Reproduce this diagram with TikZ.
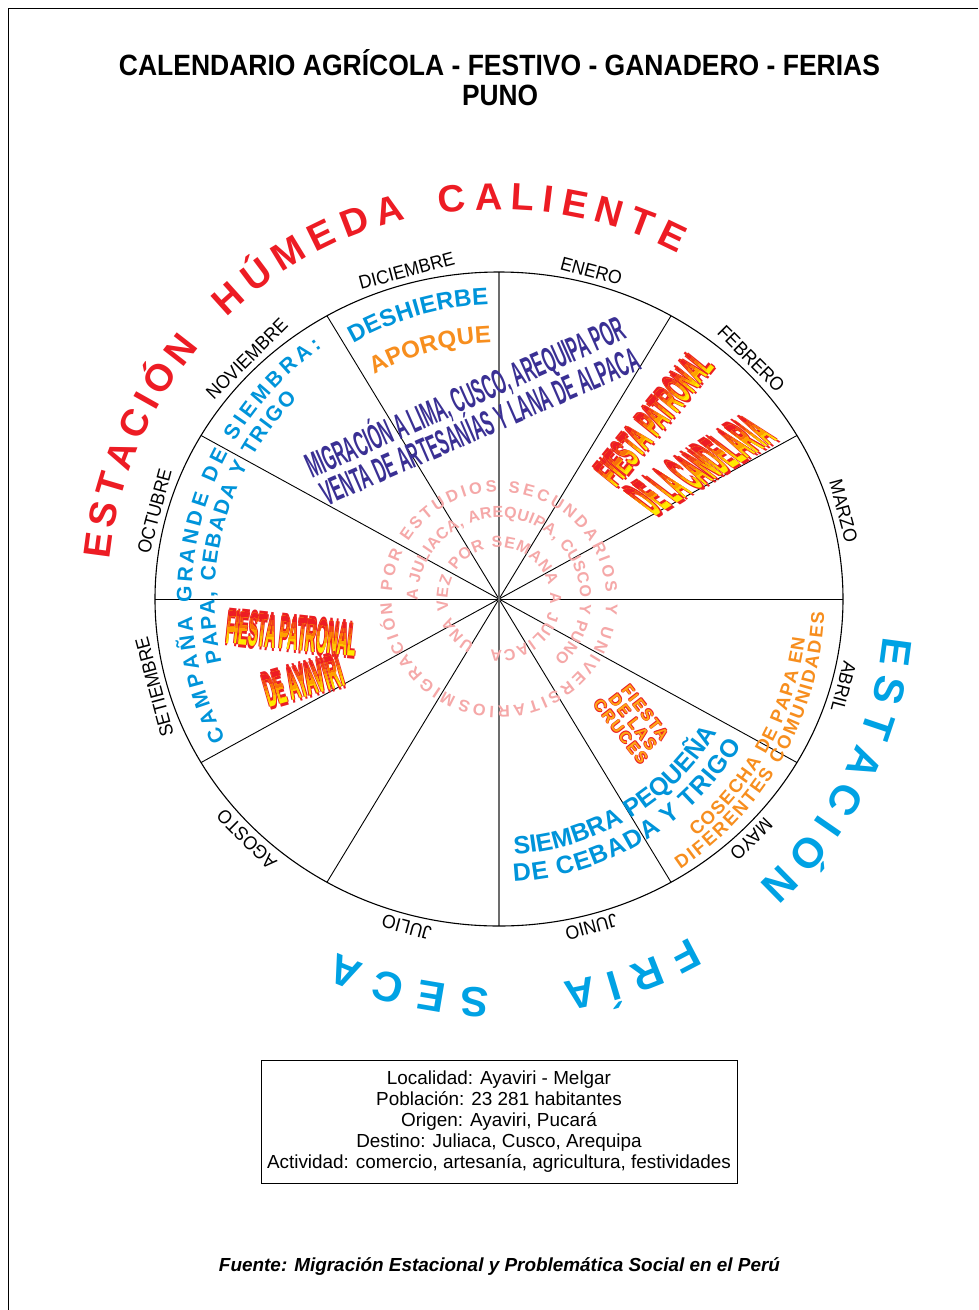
\documentclass[tikz,border=0pt]{standalone}
\usepackage{fontspec}
\setmainfont{Liberation Sans}
\usepackage{graphicx}
\definecolor{redS}{RGB}{237,28,36}
\definecolor{cyanS}{RGB}{0,162,228}
\definecolor{blueA}{RGB}{0,148,218}
\definecolor{orangeA}{RGB}{247,142,30}
\definecolor{pinkA}{RGB}{245,168,168}
\definecolor{purpA}{RGB}{58,48,148}
\definecolor{fred}{RGB}{235,30,35}
\definecolor{fyel}{RGB}{255,165,20}
\definecolor{gy0}{RGB}{255,235,0}
\definecolor{gy1}{RGB}{255,200,0}
\definecolor{gy2}{RGB}{255,160,0}
\definecolor{gy3}{RGB}{250,110,10}
\definecolor{gy4}{RGB}{242,62,25}
\definecolor{gy5}{RGB}{237,28,36}
\newcommand\fitbox[3]{\resizebox{#1}{#2}{\raisebox{0pt}[0.716em][0pt]{#3}}}
\newcommand\outl[1]{\rlap{\color{fred}\kern-.05em#1}\rlap{\color{fred}\kern.05em#1}\rlap{\color{fred}\raisebox{.05em}{#1}}\rlap{\color{fred}\raisebox{-.05em}{#1}}{\color{fyel}#1}}
\newcommand\redoutl[1]{\rlap{\color{fred}\kern-.06em#1}\rlap{\color{fred}\kern.06em#1}\rlap{\color{fred}\raisebox{.06em}{#1}}\rlap{\color{fred}\raisebox{-.06em}{#1}}\phantom{#1}}
\newlength\chw
\newcommand\measurech[2]{\pgfinterruptpicture\settowidth{\chw}{#1#2}\global\chw=\chw\endpgfinterruptpicture}
% #1 prefix, #2 radius, #3 first-letter angle, #4 last-letter angle, #5 rotation offset, #6 style, #7 font, #8 letters
\newcommand\arcfit[8]{%
  \gdef\accw{0}\gdef\nch{0}%
  \foreach \cc [count=\ci] in {#8}{%
    \measurech{#7}{\cc}%
    \pgfmathsetmacro\tmp{\accw+\chw}\global\let\accw\tmp
    \ifnum\ci=1 \xdef\wfirst{\the\chw}\fi
    \xdef\wlast{\the\chw}\xdef\nch{\ci}%
  }%
  \pgfmathsetmacro\dirn{ifthenelse(#4>#3,1,-1)}%
  \pgfmathsetmacro\trk{(abs(#4-(#3))/57.29578*(#2)-(\accw-0.5*\wfirst-0.5*\wlast))/(\nch-1)}%
  \gdef\accw{0}%
  \foreach \cc [count=\ci from 0] in {#8}{%
    \measurech{#7}{\cc}%
    \pgfmathsetmacro\ang{#3+\dirn*(\accw+0.5*\chw-0.5*\wfirst)/(#2)*57.29578}%
    \node[#6, font=#7, rotate=\ang+(#5)] (#1\ci) at (\ang:#2) {\cc};
    \pgfmathsetmacro\tmp{\accw+\chw+\trk}\global\let\accw\tmp
  }}
% #1 name, #2 position, #3 rotation, #4 width, #5 height, #6 slant, #7 text
\newcommand\gradtext[7]{%
  \begin{scope}[shift={#2}, rotate=#3, xslant=#6]
    \node[transform shape, inner sep=0pt] (#1) at (0,0) {\fitbox{#4pt}{#5pt}{\bfseries\redoutl{#7}}};
    \foreach \k/\col in {0/gy0,1/gy1,2/gy2,3/gy3,4/gy4,5/gy5}{%
      \pgfmathsetmacro\yk{ifthenelse(\k==0,-#5/2-10,-#5/2+\k*#5/6)}%
      \begin{scope}
        \clip (-#4/2-30,\yk) rectangle (#4/2+30,#5/2+10);
        \node[transform shape, inner sep=0pt] (#1f\k) at (0,0) {\fitbox{#4pt}{#5pt}{\bfseries\color{\col}#7}};
      \end{scope}}
  \end{scope}}
\tikzset{
  lt/.style={inner sep=0pt, text depth=0pt, anchor=center},
  seasonR/.style={lt, text=redS, text height=27.2pt},
  seasonB/.style={lt, text=cyanS, text height=30pt},
  pinkT/.style={lt, text=pinkA, text height=11.5pt},
  blueL/.style={lt, text=blueA, text height=15pt},
  blueM/.style={lt, text=blueA, text height=17.2pt},
  orangeM/.style={lt, text=orangeA, text height=17.2pt},
  blueB/.style={lt, text=blueA, text height=17.9pt},
  orangeS/.style={lt, text=orangeA, text height=13.2pt},
  month/.style={lt, font=\fontsize{19}{20}\selectfont, text height=13.6pt},
  sector/.style={black, line width=0.9pt},
  axisv/.style={gray!85!black, line width=1.6pt},
  fiesta/.style={inner sep=0pt, font=\bfseries},
  migr/.style={inner sep=0pt, text=purpA, font=\bfseries},
}
\begin{document}
\begin{tikzpicture}[x=1pt,y=1pt]
\useasboundingbox (0,0) rectangle (978,-1310);
\fill[white] (0,0) rectangle (978,-1310);
% frame
\coordinate (f1) at (8,-1310);
\coordinate (f2) at (8,-8);
\coordinate (f3) at (978,-8);
\draw[line width=0.8pt] (f1) -- (f2) -- (f3);
% title
\node[inner sep=0pt] (t1) at (499.5,-65) {\fitbox{761pt}{21pt}{\bfseries CALENDARIO AGRÍCOLA - FESTIVO - GANADERO - FERIAS}};
\node[inner sep=0pt] (t2) at (500,-95) {\fitbox{76pt}{21pt}{\bfseries PUNO}};

\begin{scope}[shift={(499,-599)}]
  \coordinate (O) at (0,0);
  \foreach \a in {0,30,...,330} { \coordinate (p\a) at (\a:344 and 327); }
  \foreach \a in {0,30,60,120,150,180,210,240,300,330} { \draw[sector] (O) -- (p\a); }
  \draw[axisv] (O) -- (p90);
  \draw[axisv] (O) -- (p270);
  \draw[black, line width=1.1pt] (O) ellipse [x radius=344, y radius=327];
  % months
  \foreach \a/\m in {105/DICIEMBRE, 75/ENERO, 45/FEBRERO, 15/MARZO, -15/ABRIL, -45/MAYO, -75/JUNIO, -105/JULIO, -135/AGOSTO, -165/SETIEMBRE, 165/OCTUBRE, 135/NOVIEMBRE}{
    \node[month, rotate=\a-90] (m\m) at (\a:357 and 340) {\scalebox{0.93}[1]{\m}};
  }
  % seasons
  \arcfit{hsa}{405}{172.4}{142}{-90}{seasonR}{\fontsize{38}{40}\selectfont\bfseries}{E,S,T,A,C,I,Ó,N}
  \arcfit{hsb}{405}{132}{105.8}{-90}{seasonR}{\fontsize{38}{40}\selectfont\bfseries}{H,Ú,M,E,D,A}
  \arcfit{hsc}{403}{96.7}{64.4}{-90}{seasonR}{\fontsize{38}{40}\selectfont\bfseries}{C,A,L,I,E,N,T,E}
  \arcfit{es}{401}{-7.6}{-45.5}{-90}{seasonB}{\fontsize{42}{44}\selectfont\bfseries}{E,S,T,A,C,I,Ó,N}
  \arcfit{fr}{404}{-62.4}{-78.4}{-90}{seasonB}{\fontsize{42}{44}\selectfont\bfseries}{F,R,Í,A}
  \arcfit{se}{404}{-93.4}{-112.5}{-90}{seasonB}{\fontsize{42}{44}\selectfont\bfseries}{S,E,C,A}
  % pink rings
  \arcfit{po}{113}{243}{-108}{-90}{pinkT}{\fontsize{16.5}{18}\selectfont\bfseries}{M,I,G,R,A,C,I,Ó,N,~,P,O,R,~,E,S,T,U,D,I,O,S,~,S,E,C,U,N,D,A,R,I,O,S,~,Y,~,U,N,I,V,E,R,S,I,T,A,R,I,O,S}
  \arcfit{pm}{87}{177}{-43}{-90}{pinkT}{\fontsize{16}{18}\selectfont\bfseries}{A,~,J,U,L,I,A,C,A,{,},~,A,R,E,Q,U,I,P,A,{,},~,C,U,S,C,O,~,Y,~,P,U,N,O}
  \arcfit{pi}{57}{235}{-93}{-90}{pinkT}{\fontsize{16}{18}\selectfont\bfseries}{U,N,A,~,V,E,Z,~,P,O,R,~,S,E,M,A,N,A,~,A,~,J,U,L,I,A,C,A}
  % activities along arcs
  \arcfit{cg}{315}{205.8}{125.8}{-90}{blueL}{\fontsize{21}{23}\selectfont\bfseries}{C,A,M,P,A,Ñ,A,~,G,R,A,N,D,E,~,D,E,~,S,I,E,M,B,R,A,:}
  \arcfit{pc}{292}{191.4}{136.8}{-90}{blueL}{\fontsize{21}{23}\selectfont\bfseries}{P,A,P,A,{,},~,C,E,B,A,D,A,~,Y,~,T,R,I,G,O}
  \arcfit{de}{303}{118}{93.6}{-90}{blueM}{\fontsize{24}{26}\selectfont\bfseries}{D,E,S,H,I,E,R,B,E}
  \arcfit{ap}{265}{117.2}{93.5}{-90}{orangeM}{\fontsize{24}{26}\selectfont\bfseries}{A,P,O,R,Q,U,E}
  \arcfit{sp}{247}{-84.7}{-33.4}{90}{blueB}{\fontsize{25}{27}\selectfont\bfseries}{S,I,E,M,B,R,A,~,P,E,Q,U,E,Ñ,A}
  \arcfit{dc}{274}{-85.2}{-33}{90}{blueB}{\fontsize{25}{27}\selectfont\bfseries}{D,E,~,C,E,B,A,D,A,~,Y,~,T,R,I,G,O}
  \arcfit{co}{302}{-49.1}{-8.5}{90}{orangeS}{\fontsize{18.5}{20}\selectfont\bfseries}{C,O,S,E,C,H,A,~,D,E,~,P,A,P,A,~,E,N}
  \arcfit{di}{319}{-55}{-3.4}{90}{orangeS}{\fontsize{18.5}{20}\selectfont\bfseries}{D,I,F,E,R,E,N,T,E,S,~,C,O,M,U,N,I,D,A,D,E,S}
\end{scope}

% straight / warped texts
\node[migr, rotate=24] (mg1) at (465,-397) {\fitbox{346pt}{25pt}{\bfseries MIGRACIÓN A LIMA, CUSCO, AREQUIPA POR}};
\node[migr, rotate=23.5] (mg2) at (480,-426) {\fitbox{344pt}{25pt}{\bfseries VENTA DE ARTESANÍAS Y LANA DE ALPACA}};
\gradtext{fc1}{(654,-418)}{51}{156}{31}{0}{FIESTA PATRONAL}
\gradtext{fc2}{(700,-465)}{32}{144}{40}{-0.38}{DE LA CANDELARIA}
\gradtext{fa1}{(292,-633)}{-6}{131}{34}{0}{FIESTA PATRONAL}
\gradtext{fa2}{(303,-680)}{16}{80}{34}{0}{DE AYAVIRI}
\node[fiesta, rotate=-52, align=center, font=\fontsize{16}{15.5}\selectfont\bfseries] (fx) at (633,-722) {\addfontfeature{LetterSpace=12}\outl{FIESTA}\\\addfontfeature{LetterSpace=12}\outl{DE LAS}\\\addfontfeature{LetterSpace=12}\outl{CRUCES}};

% info box
\node[draw, line width=0.9pt, minimum width=476pt, minimum height=123pt, align=center, font=\fontsize{18.9}{21}\selectfont] (info) at (499,-1121.5) {Localidad: Ayaviri - Melgar\\Población: 23 281 habitantes\\Origen: Ayaviri, Pucará\\Destino: Juliaca, Cusco, Arequipa\\Actividad: comercio, artesanía, agricultura, festividades};
% source
\node[inner sep=0pt] (src) at (499.5,-1267) {\resizebox{561pt}{!}{\bfseries\itshape Fuente: Migración Estacional y Problemática Social en el Perú}};
\end{tikzpicture}
\end{document}
